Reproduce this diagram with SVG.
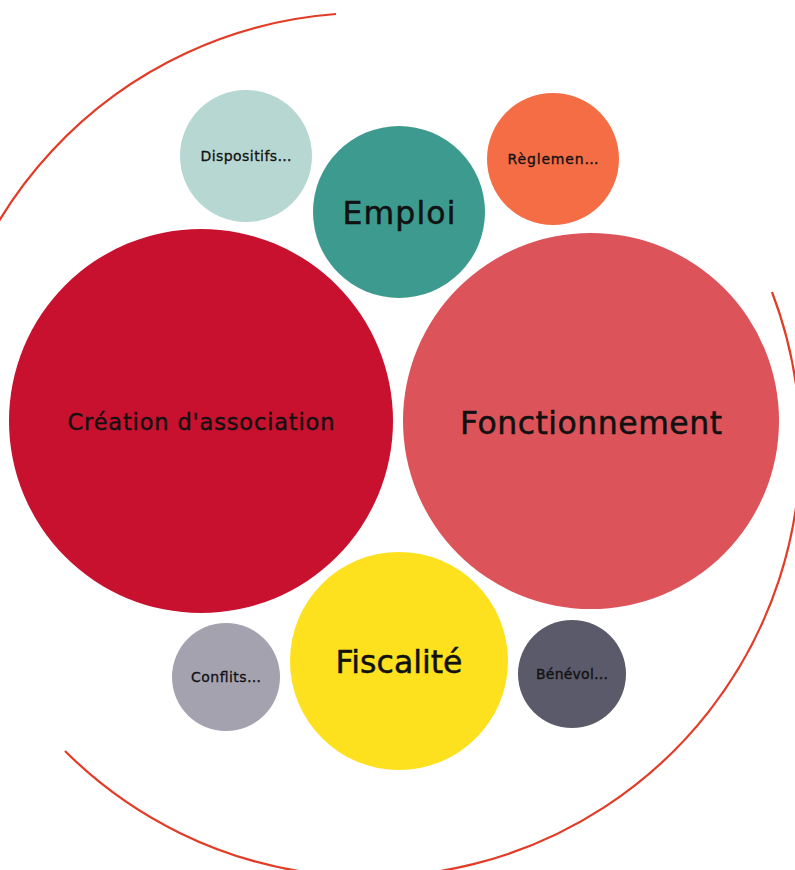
<svg xmlns="http://www.w3.org/2000/svg" width="795" height="870" viewBox="0 0 795 870">
<style>
.lbl{font-family:"DejaVu Sans","Liberation Sans",sans-serif;fill:#111;stroke:#111;stroke-width:0.35;text-anchor:middle}
.big{font-size:31.5px;stroke-width:0.5}
.mid{font-size:22.5px;stroke-width:0.4}
.sm{font-size:14px;stroke-width:0.3}
.arc{fill:none;stroke:#e23b26;stroke-width:2.2}
</style>
<rect width="795" height="870" fill="#ffffff"/>
<g id="connectors">
<path class="arc" d="M 336 14 A 431 431 0 0 0 -63 444"/>
<path class="arc" d="M 65 751 A 431 431 0 0 0 772 292"/>
</g>
<g id="node-dispositifs">
<circle cx="246" cy="156" r="66" fill="#b7d7d2"/>
<text class="lbl sm" x="246" y="161" textLength="91">Dispositifs…</text>
</g>
<g id="node-emploi">
<circle cx="399" cy="212" r="86" fill="#3d9a8e"/>
<text class="lbl big" x="399" y="223.5" textLength="113">Emploi</text>
</g>
<g id="node-reglementation">
<circle cx="553" cy="159" r="66" fill="#f46d45"/>
<text class="lbl sm" x="553" y="164" textLength="91">Règlemen…</text>
</g>
<g id="node-creation">
<circle cx="201" cy="421" r="192" fill="#c8102f"/>
<text class="lbl mid" x="201" y="429.5" textLength="267">Création d'association</text>
</g>
<g id="node-fonctionnement">
<circle cx="591" cy="421" r="188" fill="#dc535a"/>
<text class="lbl big" x="591" y="433.5" textLength="262">Fonctionnement</text>
</g>
<g id="node-fiscalite">
<circle cx="399" cy="661" r="109" fill="#fde01e"/>
<text class="lbl big" x="399" y="672.5" textLength="127">Fiscalité</text>
</g>
<g id="node-conflits">
<circle cx="226" cy="677" r="54" fill="#a5a2b0"/>
<text class="lbl sm" x="226" y="682" textLength="70">Conflits…</text>
</g>
<g id="node-benevolat">
<circle cx="572" cy="674" r="54" fill="#5b5a6a"/>
<text class="lbl sm" x="572" y="679" textLength="72">Bénévol…</text>
</g>
</svg>
